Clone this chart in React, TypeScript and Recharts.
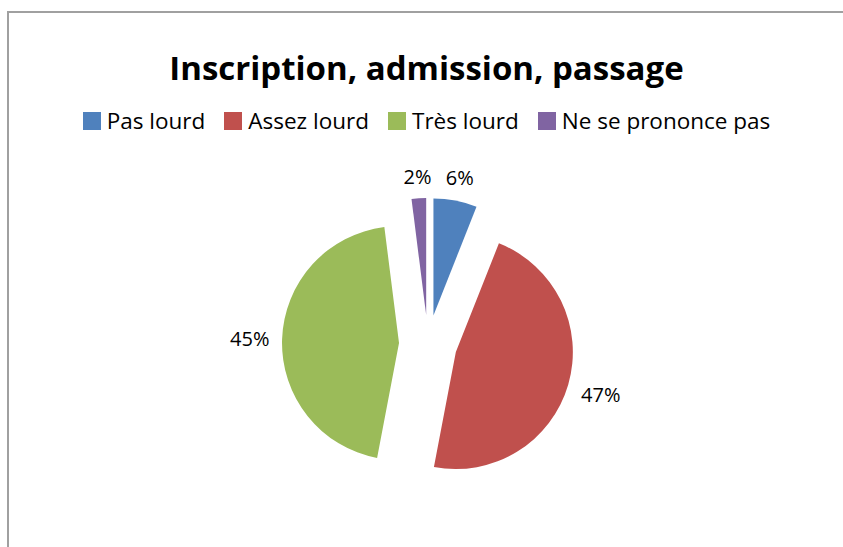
import { PieChart, Pie, Cell, Sector } from 'recharts';

const categories = ['Pas lourd', 'Assez lourd', 'Très lourd', 'Ne se prononce pas'];
const shares = [6, 47, 45, 2];
const colors = ['#4F81BD', '#C0504D', '#9BBB59', '#8064A2'];

const data = categories.map((name, i) => ({ name, value: shares[i] }));

const RADIAN = Math.PI / 180;
const EXPLODE = 29; // Excel-style point explosion, px
const FONT = '"Open Sans", "Noto Sans", sans-serif';

function ExplodedSlice(props: any) {
  const { cx, cy, midAngle } = props;
  const dx = EXPLODE * Math.cos(-midAngle * RADIAN);
  const dy = EXPLODE * Math.sin(-midAngle * RADIAN);
  return <Sector {...props} cx={cx + dx} cy={cy + dy} stroke="none" />;
}

function OutsideLabel(props: any) {
  const { cx, cy, midAngle, outerRadius, value } = props;
  const c = Math.cos(-midAngle * RADIAN);
  const s = Math.sin(-midAngle * RADIAN);
  // push label out so its box sits just past the arc
  const dist = EXPLODE + outerRadius + 10 + Math.abs(c) * 22 + Math.abs(s) * 10;
  return (
    <text
      x={cx + dist * c}
      y={cy + dist * s}
      textAnchor="middle"
      dominantBaseline="central"
      fill="#000"
      fontSize={20}
      fontFamily={FONT}
    >
      {value}%
    </text>
  );
}

export default function App() {
  return (
    <div style={{ position: 'absolute', left: 0, top: 0, width: 843, height: 547, overflow: 'hidden', background: '#fff' }}>
      <div style={{ position: 'absolute', left: 7, top: 11, width: 836, height: 2, background: '#a0a0a0' }} />
      <div style={{ position: 'absolute', left: 7, top: 11, width: 2, height: 536, background: '#a0a0a0' }} />
      <div
        style={{
          position: 'absolute',
          top: 45,
          left: 0,
          width: 853,
          textAlign: 'center',
          fontFamily: FONT,
          fontWeight: 700,
          fontSize: 33,
          color: '#000',
        }}
      >
        Inscription, admission, passage
      </div>
      <div
        style={{
          position: 'absolute',
          top: 105,
          left: 0,
          width: 853,
          display: 'flex',
          justifyContent: 'center',
          fontFamily: FONT,
          fontSize: 22.5,
          color: '#000',
        }}
      >
        {categories.map((name, i) => (
          <div key={name} style={{ display: 'flex', alignItems: 'center', marginRight: i < categories.length - 1 ? 19 : 0 }}>
            <span style={{ width: 18, height: 18, background: colors[i], display: 'inline-block', marginRight: 6 }} />
            <span>{name}</span>
          </div>
        ))}
      </div>
      <PieChart width={843} height={547} margin={{ top: 0, right: 0, bottom: 0, left: 0 }} style={{ position: 'absolute', left: 0, top: 0 }}>
        <Pie
          data={data}
          dataKey="value"
          nameKey="name"
          cx={428}
          cy={344}
          outerRadius={117}
          startAngle={90}
          endAngle={-270}
          shape={ExplodedSlice}
          label={OutsideLabel}
          labelLine={false}
          isAnimationActive={false}
        >
          {data.map((d, i) => (
            <Cell key={d.name} fill={colors[i]} />
          ))}
        </Pie>
      </PieChart>
    </div>
  );
}
